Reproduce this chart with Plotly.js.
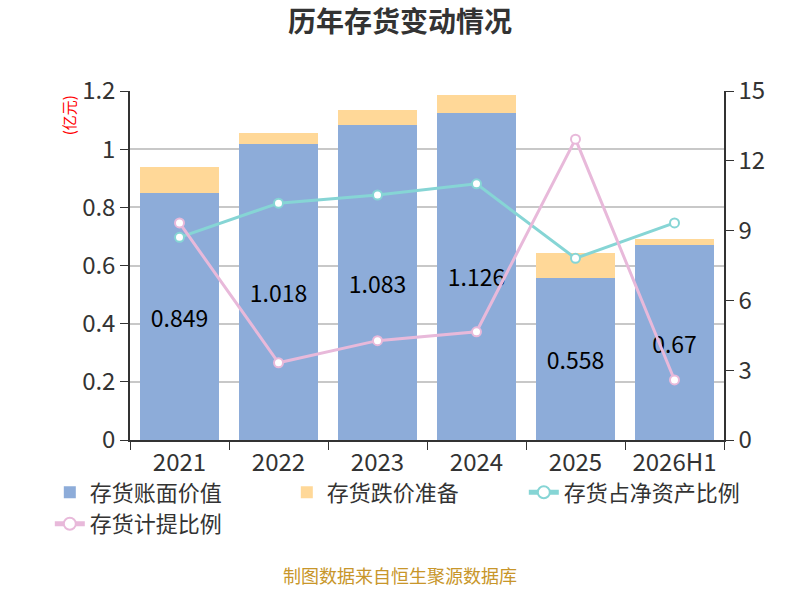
<!DOCTYPE html>
<html>
<head>
<meta charset="utf-8">
<script src="https://cdn.plot.ly/plotly-3.0.1.min.js"></script>
<style>
  html, body { margin: 0; padding: 0; background: #fff; }
  #chart { width: 800px; height: 600px; }
</style>
</head>
<body>
<div id="chart"></div>
<script>
// 数据
const years = ['2021', '2022', '2023', '2024', '2025', '2026H1'];
const bookValue = [0.849, 1.018, 1.083, 1.126, 0.558, 0.67];
const impairment = [0.090, 0.038, 0.052, 0.059, 0.085, 0.020];
const shareOfNetAssets = [8.71, 10.18, 10.53, 11.01, 7.81, 9.33];
const provisionRatio = [9.33, 3.32, 4.27, 4.65, 12.93, 2.58];

const FONT = '"Noto Sans CJK SC", "Noto Sans", sans-serif';

const traces = [
    {
        type: 'bar', name: '存货账面价值', x: years, y: bookValue,
        marker: { color: '#8dacd9' },
        text: bookValue.map(String), textposition: 'inside', insidetextanchor: 'middle',
        textfont: { size: 23, color: '#000' }, hoverinfo: 'y'
    },
    {
        type: 'bar', name: '存货跌价准备', x: years, y: impairment,
        marker: { color: '#ffd898' }, textposition: 'none'
    },
    {
        type: 'scatter', mode: 'lines+markers', name: '存货占净资产比例',
        x: years, y: shareOfNetAssets, yaxis: 'y2',
        line: { color: '#86d5d5', width: 3 },
        marker: { symbol: 'circle', size: 9, color: '#fff', line: { color: '#86d5d5', width: 2 } }
    },
    {
        type: 'scatter', mode: 'lines+markers', name: '存货计提比例',
        x: years, y: provisionRatio, yaxis: 'y2',
        line: { color: '#e8b9da', width: 3 },
        marker: { symbol: 'circle', size: 9, color: '#fff', line: { color: '#e8b9da', width: 2 } }
    }
];

const layout = {
    width: 800, height: 600,
    margin: { l: 130, r: 76, t: 91, b: 160 },
    paper_bgcolor: '#fff', plot_bgcolor: '#fff',
    font: { family: FONT, color: '#333' },
    barmode: 'stack', bargap: 0.2,
    showlegend: true,
    title: {
        text: '历年存货变动情况', x: 0.5, xref: 'container', y: 0.963, yanchor: 'middle',
        font: { family: FONT, size: 28, color: '#333', weight: 'bold' }
    },
    xaxis: {
        type: 'category', tickson: 'boundaries', ticks: 'outside', ticklen: 8, tickcolor: '#333',
        showline: true, linecolor: '#333', linewidth: 1.5,
        tickfont: { size: 24, color: '#333' }, showgrid: false
    },
    yaxis: {
        range: [0, 1.2], dtick: 0.2, ticks: 'outside', ticklen: 8, tickcolor: '#333',
        showline: true, linecolor: '#333', linewidth: 1.5,
        gridcolor: '#c8c8c8', gridwidth: 1.5, zeroline: false,
        tickfont: { size: 24, color: '#333' }
    },
    yaxis2: {
        overlaying: 'y', side: 'right', range: [0, 15], dtick: 3,
        ticks: 'outside', ticklen: 8, tickcolor: '#333',
        showline: true, linecolor: '#333', linewidth: 1.5,
        showgrid: false, zeroline: false,
        tickfont: { size: 24, color: '#333' }
    },
    legend: {
        orientation: 'h', x: -0.135, xanchor: 'left', y: -0.09, yanchor: 'top',
        font: { size: 22, color: '#333' },
        entrywidth: 192, entrywidthmode: 'pixels', traceorder: 'normal',
        itemsizing: 'constant'
    },
    annotations: [
        {
            text: '(亿元)', xref: 'paper', yref: 'paper', x: -0.104, y: 0.931,
            xanchor: 'center', yanchor: 'middle',
            textangle: -90, showarrow: false, font: { size: 15, color: '#ff0000' }
        },
        {
            text: '(%)', xref: 'paper', yref: 'paper', x: 1.14, y: 0.96,
            xanchor: 'center', yanchor: 'middle',
            textangle: -90, showarrow: false, font: { size: 15, color: '#ff0000' }
        },
        {
            text: '制图数据来自恒生聚源数据库', xref: 'paper', yref: 'paper', x: 0.4545, y: -0.43,
            xanchor: 'center', showarrow: false, font: { size: 18, color: '#c8962a' }
        }
    ]
};

Plotly.newPlot('chart', traces, layout, { displayModeBar: false, responsive: false });
</script>
</body>
</html>
